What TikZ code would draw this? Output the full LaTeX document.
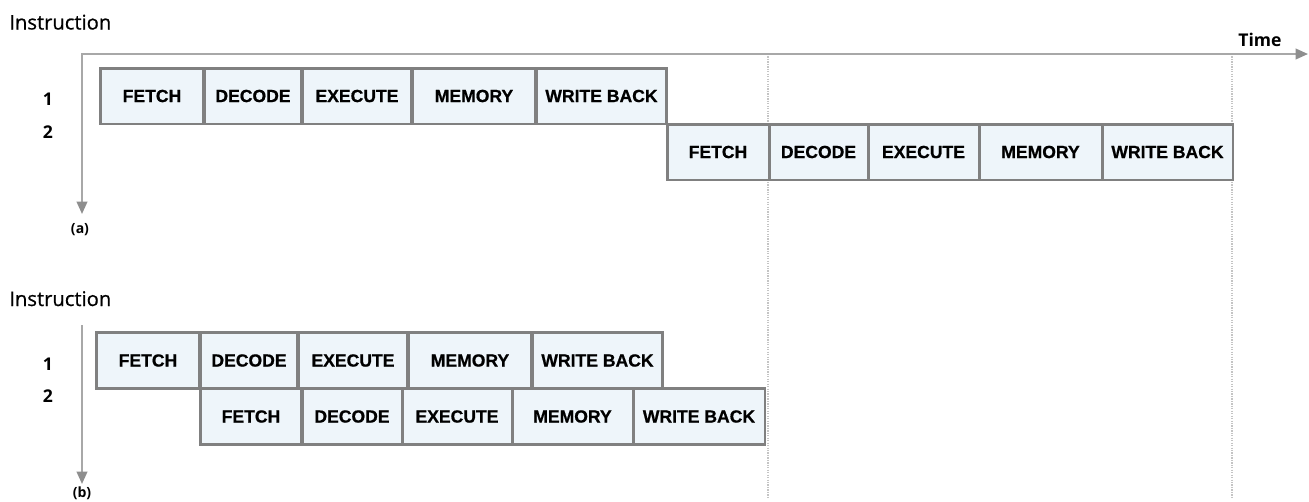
\documentclass[tikz,border=0pt]{standalone}
\usepackage{fontspec}
\setmainfont{Open Sans}
\newfontfamily\stagefont{Liberation Sans}[BoldFeatures={FakeBold=0.8}]
\newfontfamily\titlefont{Open Sans}[FakeBold=0.6]
\usepackage{tikz}
\usetikzlibrary{arrows.meta, positioning}
\definecolor{stagefill}{HTML}{EEF5FA}
\definecolor{stageedge}{HTML}{808080}
\definecolor{axisgray}{HTML}{A8A8A8}
\definecolor{tipgray}{HTML}{8E8E8E}
\definecolor{guidegray}{HTML}{C4C4C4}
\tikzset{
	stagebox/.style={
			shape=rectangle,
			draw=stageedge,
			line width=1.7pt,
			fill=stagefill,
			minimum height=1.12cm,
			inner sep=0pt,
			font=\stagefont\bfseries\fontsize{10}{12}\selectfont
		},
	axisline/.style={
			draw=axisgray,
			line width=1.1pt,
			{Triangle[length=7pt,width=6pt,color=tipgray]}-{Triangle[length=7pt,width=6pt,color=tipgray]}
		},
	downaxis/.style={
			draw=axisgray,
			line width=1.1pt,
			-{Triangle[length=7pt,width=6pt,color=tipgray]}
		},
	guideline/.style={
			draw=guidegray,
			line width=0.6pt,
			dash pattern=on 0.7pt off 0.7pt
		}
}
\tikzset{
	titletext/.style={font=\titlefont\fontsize{11.5}{13}\selectfont, anchor=base west, inner sep=0pt},
	rowtext/.style={font=\bfseries\fontsize{10}{12}\selectfont, inner sep=0pt},
	tagtext/.style={font=\bfseries\fontsize{8}{10}\selectfont, inner sep=0pt}
}

\begin{document}
\begin{tikzpicture}[x=0.02cm, y=-0.02cm]

  \useasboundingbox (0,0) rectangle (1309,501);

  \coordinate (ga1) at (768,54);
  \coordinate (ga2) at (768,497);
  \coordinate (gb1) at (1232,54);
  \coordinate (gb2) at (1232,497);
  \draw[guideline] (ga1) -- (ga2);
  \draw[guideline] (gb1) -- (gb2);

  \coordinate (ystarta) at (82,214);
  \coordinate (xend) at (1308,54);
  \draw[axisline] (ystarta) |- (xend);
  \coordinate (ystartb) at (82,325);
  \coordinate (yendb) at (82,484);
  \draw[downaxis] (ystartb) -- (yendb);

  \node[titletext] (insta) at (9,29.5) {Instruction};
  \node[titletext] (instb) at (9,306) {Instruction};
  \node[rowtext] (timelbl) at (1260,40) {Time};
  \node[rowtext] (ra1) at (48,99) {1};
  \node[rowtext] (ra2) at (48,132) {2};
  \node[rowtext] (rb1) at (48,364) {1};
  \node[rowtext] (rb2) at (48,396) {2};
  \node[tagtext] (taga) at (80,230) {(a)};
  \node[tagtext] (tagb) at (82,493) {(b)};

  \node[stagebox, minimum width=2.08cm] (a1) at (152,96) {FETCH};
  \node[stagebox, minimum width=1.96cm] (a2) at (253,96) {DECODE};
  \node[stagebox, minimum width=2.20cm] (a3) at (357,96) {EXECUTE};
  \node[stagebox, minimum width=2.48cm] (a4) at (474,96) {MEMORY};
  \node[stagebox, minimum width=2.62cm] (a5) at (601.5,96) {WRITE BACK};

  \node[stagebox, minimum width=2.04cm] (a6) at (718,152) {FETCH};
  \node[stagebox, minimum width=1.98cm] (a7) at (818.5,152) {DECODE};
  \node[stagebox, minimum width=2.22cm] (a8) at (923.5,152) {EXECUTE};
  \node[stagebox, minimum width=2.46cm] (a9) at (1040.5,152) {MEMORY};
  \node[stagebox, minimum width=2.62cm] (a10) at (1167.5,152) {WRITE BACK};

  \node[stagebox, minimum width=2.08cm] (b1) at (148,360.5) {FETCH};
  \node[stagebox, minimum width=1.96cm] (b2) at (249,360.5) {DECODE};
  \node[stagebox, minimum width=2.20cm] (b3) at (353,360.5) {EXECUTE};
  \node[stagebox, minimum width=2.48cm] (b4) at (470,360.5) {MEMORY};
  \node[stagebox, minimum width=2.62cm] (b5) at (597.5,360.5) {WRITE BACK};

  \node[stagebox, minimum width=2.04cm] (b6) at (251,416.5) {FETCH};
  \node[stagebox, minimum width=2.00cm] (b7) at (352,416.5) {DECODE};
  \node[stagebox, minimum width=2.20cm] (b8) at (457,416.5) {EXECUTE};
  \node[stagebox, minimum width=2.42cm] (b9) at (572.5,416.5) {MEMORY};
  \node[stagebox, minimum width=2.64cm] (b10) at (699,416.5) {WRITE BACK};

\end{tikzpicture}
\end{document}
